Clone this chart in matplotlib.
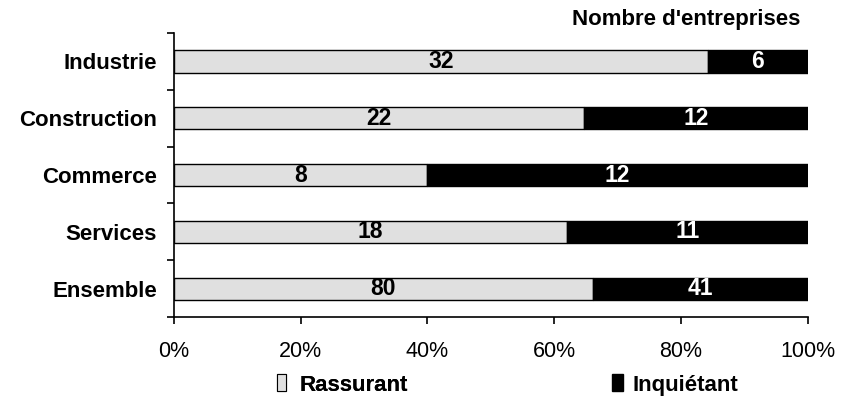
import numpy as np
import matplotlib.pyplot as plt
from matplotlib.patches import Patch
from matplotlib.ticker import FixedLocator, PercentFormatter

plt.rcParams['font.family'] = ['Liberation Sans', 'DejaVu Sans']

# Nombre d'entreprises par secteur
secteurs = ['Industrie', 'Construction', 'Commerce', 'Services', 'Ensemble']
rassurant = np.array([32, 22, 8, 18, 80])
inquietant = np.array([6, 12, 12, 11, 41])
graduations = [0, 20, 40, 60, 80, 100]

total = rassurant + inquietant
part_r = rassurant / total * 100
part_i = inquietant / total * 100

gris = '#e0e0e0'
fig = plt.figure(figsize=(8.44, 3.98), dpi=100)
ax = fig.add_axes([0.206, 0.2035, 0.751, 0.7135])

y = np.arange(len(secteurs))
ax.barh(y, part_r, height=0.39, color=gris, edgecolor='black', linewidth=1.0)
ax.barh(y, part_i, left=part_r, height=0.39, color='black', edgecolor='black', linewidth=1.0)

for yi, pr, pi, r, i in zip(y, part_r, part_i, rassurant, inquietant):
    ax.text(pr / 2, yi, str(r), ha='center', va='center',
            fontsize=16.5, fontweight='bold', color='black')
    ax.text(pr + pi / 2, yi, str(i), ha='center', va='center',
            fontsize=16.5, fontweight='bold', color='white')

ax.set_xlim(0, 100)
ax.set_ylim(len(secteurs) - 0.5, -0.5)

# axes : seulement gauche et bas
for s in ['top', 'right']:
    ax.spines[s].set_visible(False)
ax.spines['left'].set_linewidth(1.2)
ax.spines['bottom'].set_linewidth(1.2)

ax.set_xticks(graduations)
ax.xaxis.set_major_formatter(PercentFormatter(decimals=0))
ax.tick_params(axis='x', direction='out', length=5, width=1.2, pad=12, labelsize=15.5)

ax.set_yticks(y)
ax.set_yticklabels(secteurs, fontsize=16, fontweight='bold')
ax.tick_params(axis='y', which='major', length=0, pad=12)
ax.yaxis.set_minor_locator(FixedLocator(np.arange(-0.5, len(secteurs), 1.0)))
ax.tick_params(axis='y', which='minor', direction='out', length=5, width=1.2)

fig.text(800 / 844, 1 - 19 / 398, "Nombre d'entreprises", ha='right', va='center',
         fontsize=16, fontweight='bold')

leg_font = {'size': 16, 'weight': 'bold'}
leg1 = fig.legend(handles=[Patch(facecolor=gris, edgecolor='black', linewidth=0.8)],
                  labels=['Rassurant'], loc='center left',
                  bbox_to_anchor=(277 / 844, 1 - 385 / 398), frameon=False,
                  handlelength=0.4, handleheight=0.8, handletextpad=0.6,
                  borderpad=0, borderaxespad=0, prop=leg_font)
leg2 = fig.legend(handles=[Patch(facecolor='black', edgecolor='black')],
                  labels=['Inquiétant'], loc='center left',
                  bbox_to_anchor=(612 / 844, 1 - 385 / 398), frameon=False,
                  handlelength=0.5, handleheight=0.8, handletextpad=0.4,
                  borderpad=0, borderaxespad=0, prop=leg_font)
fig.add_artist(leg1)

fig.savefig('out.png', dpi=100)
